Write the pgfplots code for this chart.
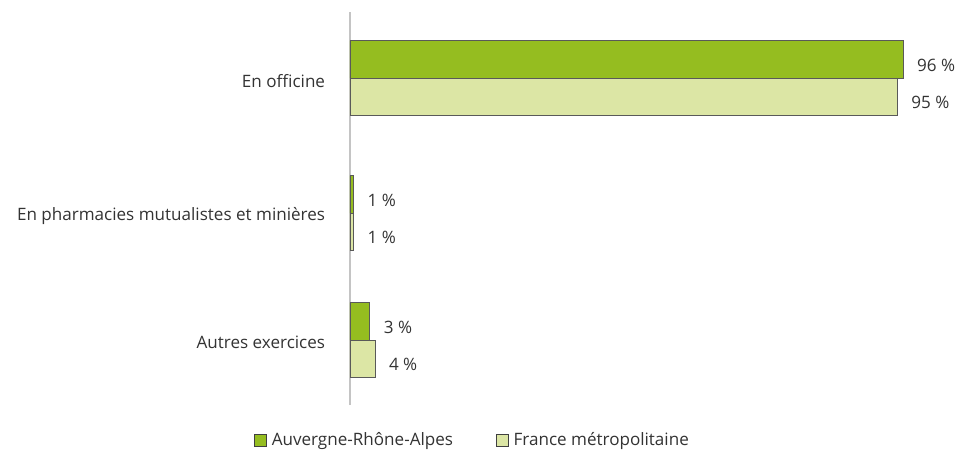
\documentclass[border=0pt]{standalone}
\usepackage{pgfplots}
\pgfplotsset{compat=1.18}
\usepackage{fontspec}
\setmainfont{Open Sans}
\definecolor{darkgreen}{HTML}{95BD20}
\definecolor{lightgreen}{HTML}{DCE6A5}
\definecolor{txt}{HTML}{333333}
\definecolor{axisgray}{HTML}{C4C4C4}
\begin{document}
\fontsize{12.8}{15}\selectfont
\begin{tikzpicture}
\path[use as bounding box] (0,0) rectangle (720pt,338.25pt);
\begin{axis}[
  at={(262.5pt,34.5pt)}, anchor=south west,
  scale only axis, width=432pt, height=294.75pt,
  xmin=0, xmax=100, ymin=0, ymax=393,
  hide x axis,
  axis y line*=left,
  y axis line style={axisgray, line width=1.5pt},
  ytick={65,192,327},
  yticklabels={Autres exercices, En pharmacies mutualistes et minières, En officine},
  major tick length=0pt,
  yticklabel style={anchor=east, inner sep=0pt, xshift=-18.5pt, yshift=-2pt, text=txt, font=\fontsize{12.8}{15}\selectfont},
  xbar, bar width=37.5,
  point meta=explicit symbolic,
  nodes near coords={\pgfplotspointmeta~\%},
  every node near coord/.append style={anchor=west, inner sep=0pt, xshift=10.5pt, yshift=-4.5pt, text=txt, font=\fontsize{12.8}{15}\selectfont},
  legend columns=2,
  legend style={draw=none, at={(0.213,-0.089)}, anchor=center, font=\fontsize{12.8}{15}\selectfont, text=txt,
    /tikz/every even column/.append style={column sep=30pt}},
  legend image code/.code={\draw[#1, draw=black!75, line width=0.5pt] (0pt,-4.5pt) rectangle (9pt,4.5pt); \path (11pt,0pt);},
  clip=false,
]
\addplot[fill=darkgreen, draw=black!65, line width=0.4pt, bar shift=18.75] table[meta=lab] {
x y lab
96 327 96
0.6 192 1
3.4 65 3
};
\addplot[fill=lightgreen, draw=black!65, line width=0.4pt, bar shift=-18.75] table[meta=lab] {
x y lab
95 327 95
0.6 192 1
4.3 65 4
};
\legend{Auvergne-Rhône-Alpes, France métropolitaine}
\end{axis}
\end{tikzpicture}
\end{document}
